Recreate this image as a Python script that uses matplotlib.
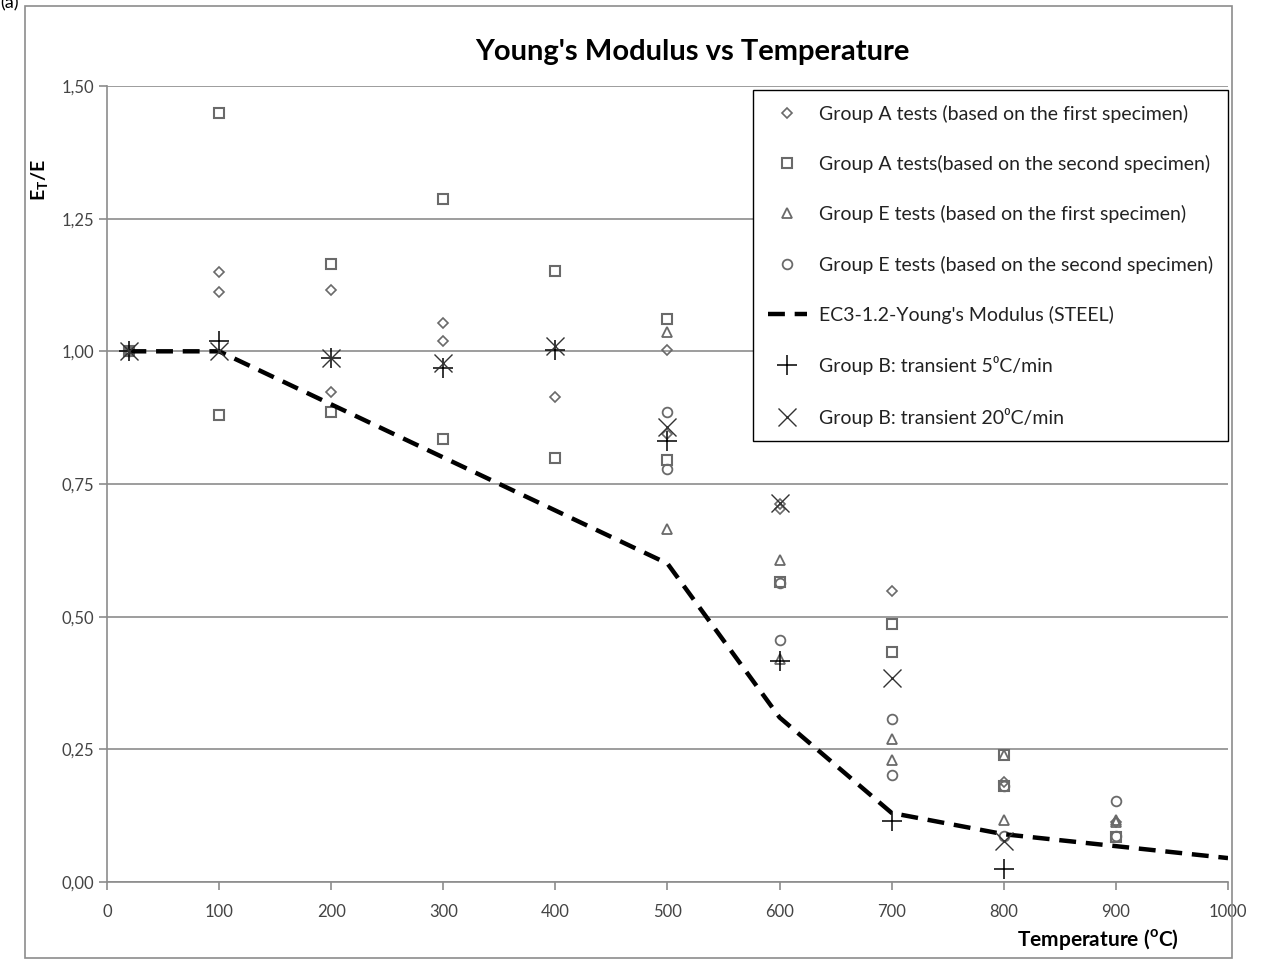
import matplotlib.pyplot as plt

plt.rcParams['font.family'] = ['Lato', 'DejaVu Sans']
plt.rcParams['mathtext.fontset'] = 'custom'
plt.rcParams['mathtext.rm'] = 'Lato'
plt.rcParams['mathtext.bf'] = 'Lato:bold'

# Group A, first specimen (diamonds)
a1_t = [20, 100, 100, 200, 200, 300, 300, 400, 500, 500, 600, 600, 700, 800, 900]
a1_v = [1.00, 1.149, 1.112, 1.115, 0.923, 1.053, 1.019, 0.914, 1.003, 0.845, 0.712, 0.703, 0.548, 0.188, 0.113]

# Group A, second specimen (squares)
a2_t = [20, 100, 100, 200, 200, 300, 300, 400, 400, 500, 500, 600, 700, 700, 800, 800, 900]
a2_v = [1.00, 1.449, 0.880, 1.165, 0.886, 1.287, 0.835, 1.151, 0.799, 1.061, 0.795, 0.566, 0.486, 0.434, 0.239, 0.180, 0.085]

# Group E, first specimen (triangles)
e1_t = [20, 500, 500, 600, 600, 700, 700, 800, 800, 900, 900]
e1_v = [1.00, 1.036, 0.665, 0.607, 0.420, 0.269, 0.230, 0.239, 0.117, 0.113, 0.116]

# Group E, second specimen (circles)
e2_t = [20, 500, 500, 600, 600, 700, 700, 800, 800, 900, 900]
e2_v = [1.00, 0.886, 0.778, 0.564, 0.456, 0.307, 0.202, 0.180, 0.087, 0.153, 0.087]

# EC3-1.2 reduction factor for E (steel)
ec3_t = [20, 100, 200, 300, 400, 500, 600, 700, 800, 900, 1000]
ec3_v = [1.00, 1.00, 0.90, 0.80, 0.70, 0.60, 0.31, 0.13, 0.09, 0.0675, 0.045]

# Group B transient 5 C/min (plus)
b5_t = [20, 100, 200, 300, 400, 500, 600, 700, 800]
b5_v = [1.00, 1.019, 0.987, 0.968, 1.002, 0.831, 0.417, 0.115, 0.024]

# Group B transient 20 C/min (x)
b20_t = [20, 100, 200, 300, 400, 500, 600, 700, 800]
b20_v = [1.00, 1.00, 0.987, 0.978, 1.010, 0.858, 0.714, 0.384, 0.077]

fig = plt.figure(figsize=(12.66, 9.64), dpi=100)
ax = fig.add_axes([0.0845, 0.0851, 0.8855, 0.8257])

grey = '#6a6a6a'
ax.plot(a1_t, a1_v, ls='none', marker='D', ms=5, mfc='none', mec=grey, mew=1.2,
        label='Group A tests (based on the first specimen)')
ax.plot(a2_t, a2_v, ls='none', marker='s', ms=7, mfc='none', mec=grey, mew=1.5,
        label='Group A tests(based on the second specimen)')
ax.plot(e1_t, e1_v, ls='none', marker='^', ms=7, mfc='none', mec=grey, mew=1.3,
        label='Group E tests (based on the first specimen)')
ax.plot(e2_t, e2_v, ls='none', marker='o', ms=7, mfc='none', mec=grey, mew=1.3,
        label='Group E tests (based on the second specimen)')
ax.plot(ec3_t, ec3_v, color='black', lw=3.2, ls=(0, (3.8, 2.2)),
        label="EC3-1.2-Young's Modulus (STEEL)")
ax.plot(b5_t, b5_v, ls='none', marker='+', ms=14, mec='black', mew=1.1,
        label='Group B: transient 5\u2070C/min')
ax.plot(b20_t, b20_v, ls='none', marker='x', ms=13, mec='#333333', mew=1.0,
        label='Group B: transient 20\u2070C/min')

ax.set_xlim(0, 1000)
ax.set_ylim(0, 1.5)
ax.set_xticks(range(0, 1001, 100))
ax.set_yticks([0, 0.25, 0.5, 0.75, 1.0, 1.25, 1.5])
ax.set_yticklabels(['0,00', '0,25', '0,50', '0,75', '1,00', '1,25', '1,50'])
ax.yaxis.grid(True, color='#8c8c8c', lw=1.2)
ax.set_axisbelow(True)
for s in ['top', 'right']:
    ax.spines[s].set_visible(False)
for s in ['left', 'bottom']:
    ax.spines[s].set_color('#8c8c8c')
    ax.spines[s].set_linewidth(1.2)
ax.tick_params(axis='both', colors='#8c8c8c', length=6, width=1.2, labelsize=12,
               labelcolor='#444444')
ax.tick_params(axis='x', pad=10)

fig.text(0.547, 0.946, "Young's Modulus vs Temperature", fontsize=21,
         fontweight='bold', ha='center', va='center')
fig.text(0.032, 0.813, 'E$_{\\mathbf{T}}$/E', rotation=90, fontsize=14,
         fontweight='bold', ha='center', va='center')
fig.text(0.867, 0.025, 'Temperature ($^{\\mathregular{o}}$C)', fontsize=15,
         fontweight='bold', ha='center', va='center')
fig.text(0.0, 0.997, '(a)', fontsize=13, va='center')

leg = ax.legend(loc='upper right', bbox_to_anchor=(1.0, 0.995), fontsize=14,
                frameon=True, fancybox=False, edgecolor='black', framealpha=1,
                labelspacing=1.66, handlelength=2.0, handletextpad=0.65,
                borderpad=0.75, borderaxespad=0.0)
leg.get_frame().set_linewidth(1.0)
for t in leg.get_texts():
    t.set_color('#222222')

# outer chart border
fig.patches.append(plt.Rectangle((0.02, 0.006), 0.953, 0.988, transform=fig.transFigure,
                                 fill=False, edgecolor='#8c8c8c', lw=1.2))

fig.savefig('out.png', dpi=100)
